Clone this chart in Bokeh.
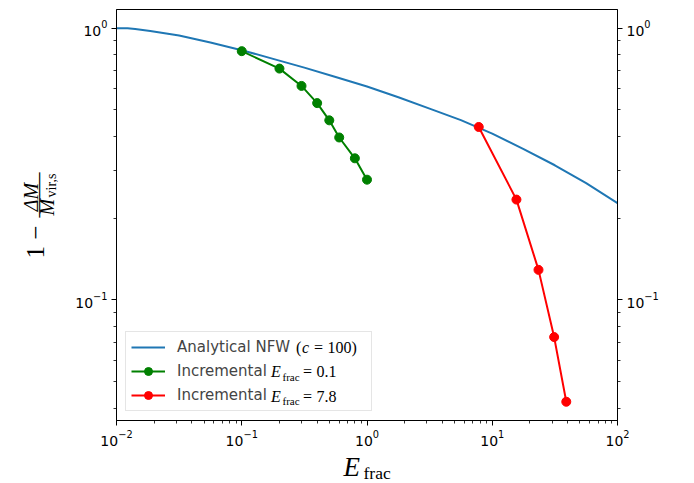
from bokeh.plotting import figure
from bokeh.models import (Range1d, LogAxis, FixedTicker, LogTickFormatter, Legend,
                          LegendItem, Label)
from bokeh.embed import file_html
from bokeh.resources import INLINE

# ---- data ----
nfw_x = [0.01, 0.01225, 0.0141, 0.0186, 0.0316, 0.0562, 0.1, 0.178, 0.316, 0.562,
         1.0, 1.78, 3.16, 5.62, 10.0, 17.8, 31.6, 56.2, 100.0]
nfw_y = [1.0, 1.0, 0.993, 0.977, 0.940, 0.885, 0.830, 0.771, 0.716, 0.661,
         0.610, 0.557, 0.506, 0.459, 0.409, 0.359, 0.313, 0.269, 0.227]

inc01_x = [0.1, 0.2, 0.3, 0.4, 0.5, 0.6, 0.8, 1.0]
inc01_y = [0.823, 0.710, 0.613, 0.530, 0.458, 0.396, 0.332, 0.277]

inc78_x = [7.8, 15.6, 23.4, 31.2, 39.0]
inc78_y = [0.433, 0.234, 0.129, 0.0730, 0.0422]

x_major = [0.01, 0.1, 1.0, 10.0, 100.0]
y_major = [0.1, 1.0]
x_minor = [m * d for d in [0.01, 0.1, 1.0, 10.0] for m in range(2, 10)]
y_minor = [m * d for d in [0.01, 0.1] for m in range(2, 10) if m * d > 0.035]

BLUE = "#1f77b4"
W, H = 694, 483

p = figure(width=W, height=H, x_axis_type="log", y_axis_type="log",
           x_range=Range1d(0.01, 100), y_range=Range1d(0.0360, 1.1714),
           output_backend="svg", toolbar_location=None,
           min_border_left=116, min_border_right=77, min_border_top=9, min_border_bottom=63)
p.grid.visible = False
p.outline_line_color = "black"
p.outline_line_width = 1
p.background_fill_color = "white"
p.border_fill_color = "white"

right_axis = LogAxis()
p.add_layout(right_axis, "right")


def style_axis(ax, major, minor):
    ax.ticker = FixedTicker(ticks=major, minor_ticks=minor)
    ax.formatter = LogTickFormatter()
    ax.axis_line_color = "black"
    ax.axis_line_width = 1
    ax.major_tick_in = 0
    ax.major_tick_out = 5
    ax.minor_tick_in = 0
    ax.minor_tick_out = 3
    ax.major_tick_line_width = 1
    ax.minor_tick_line_width = 0.8
    ax.major_tick_line_color = "black"
    ax.minor_tick_line_color = "black"
    ax.major_label_text_font = "DejaVu Sans"
    ax.major_label_text_font_size = "14px"
    ax.major_label_text_color = "black"
    ax.major_label_standoff = 4


style_axis(p.xaxis[0], x_major, x_minor)
style_axis(p.yaxis[0], y_major, y_minor)
style_axis(right_axis, y_major, y_minor)

r_nfw = p.line(nfw_x, nfw_y, line_color=BLUE, line_width=2)
r_gl = p.line(inc01_x, inc01_y, line_color="green", line_width=2)
r_gs = p.scatter(inc01_x, inc01_y, size=9, fill_color="green", line_color="green")
r_rl = p.line(inc78_x, inc78_y, line_color="red", line_width=2)
r_rs = p.scatter(inc78_x, inc78_y, size=9, fill_color="red", line_color="red")

legend = Legend(items=[LegendItem(label="Analytical NFW", renderers=[r_nfw]),
                       LegendItem(label="Incremental", renderers=[r_gl, r_gs]),
                       LegendItem(label="Incremental", renderers=[r_rl, r_rs])],
                location=(9, 9), margin=0, padding=5, spacing=4,
                glyph_width=34, glyph_height=20, label_height=20, label_width=189,
                label_standoff=12, label_text_font="DejaVu Sans",
                label_text_font_size="15px", label_text_baseline="middle",
                border_line_color="#cccccc", border_line_width=1,
                background_fill_color="white", background_fill_alpha=0)
p.add_layout(legend)

SERIF = "Liberation Serif"
BASE_SHIFT = 0.33   # bokeh draws "alphabetic" text ~0.33 em below its anchor

# ---- legend math parts (inside the frame, frame-relative screen units) ----
FL, FB = 116, 420


def txt(s, X, Y, size, style="normal", align="left"):
    Y = Y - BASE_SHIFT * size
    p.add_layout(Label(x=X - FL, y=FB - Y, x_units="screen", y_units="screen", text=s,
                       text_font=SERIF, text_font_size=f"{size}px", text_font_style=style,
                       text_align=align, text_baseline="alphabetic",
                       text_color="black", level="overlay"))


txt("(", 295.5, 352.3, 16)
txt("c", 301.5, 352.3, 16, "italic")
txt("=", 313.5, 352.3, 16)
txt("100)", 327, 352.3, 16)
for row, val in [(0, "0.1"), (1, "7.8")]:
    dy = 24.4 * row
    txt("E", 270.5, 376.7 + dy, 16, "italic")
    txt("frac", 282, 379.7 + dy, 11)
    txt("=", 302.5, 376.7 + dy, 16)
    txt(val, 316, 376.7 + dy, 16)

# ---- transparent overlay figure for the axis titles (outside the main frame) ----
q = figure(width=W, height=H, x_range=Range1d(0, 1), y_range=Range1d(0, 1),
           output_backend="svg", toolbar_location=None,
           x_axis_location=None, y_axis_location=None,
           min_border_left=0, min_border_right=0, min_border_top=0, min_border_bottom=0)
q.grid.visible = False
q.outline_line_color = None
q.background_fill_color = None
q.border_fill_color = None
q.styles = {"position": "absolute", "top": "0px", "left": "0px", "pointer-events": "none"}


def qtxt(s, X, Y, size, style="normal", align="left", angle=0.0):
    if angle:
        X = X - BASE_SHIFT * size
    else:
        Y = Y - BASE_SHIFT * size
    q.add_layout(Label(x=X, y=H - Y, x_units="screen", y_units="screen", text=s,
                       text_font=SERIF, text_font_size=f"{size}px", text_font_style=style,
                       text_align=align, text_baseline="alphabetic", angle=angle,
                       angle_units="deg", text_color="black"))


# x axis title  E_frac
qtxt("E", 343, 475, 27, "italic")
qtxt("frac", 363, 478.5, 17.5)

# y axis title  1 - dM / M_vir,s  (rotated)
qtxt("1 \u2212", 43, 258, 25, angle=90)
qtxt("\u0394M", 37, 196.5, 20, "italic", align="center", angle=90)
qtxt("\u2014\u2014", 44, 194.5, 22.5, align="center", angle=90)
qtxt("M", 53, 215, 20, "italic", angle=90)
qtxt("vir,s", 56, 197, 14, angle=90)

open("out.html", "w").write(file_html([p, q], INLINE))
